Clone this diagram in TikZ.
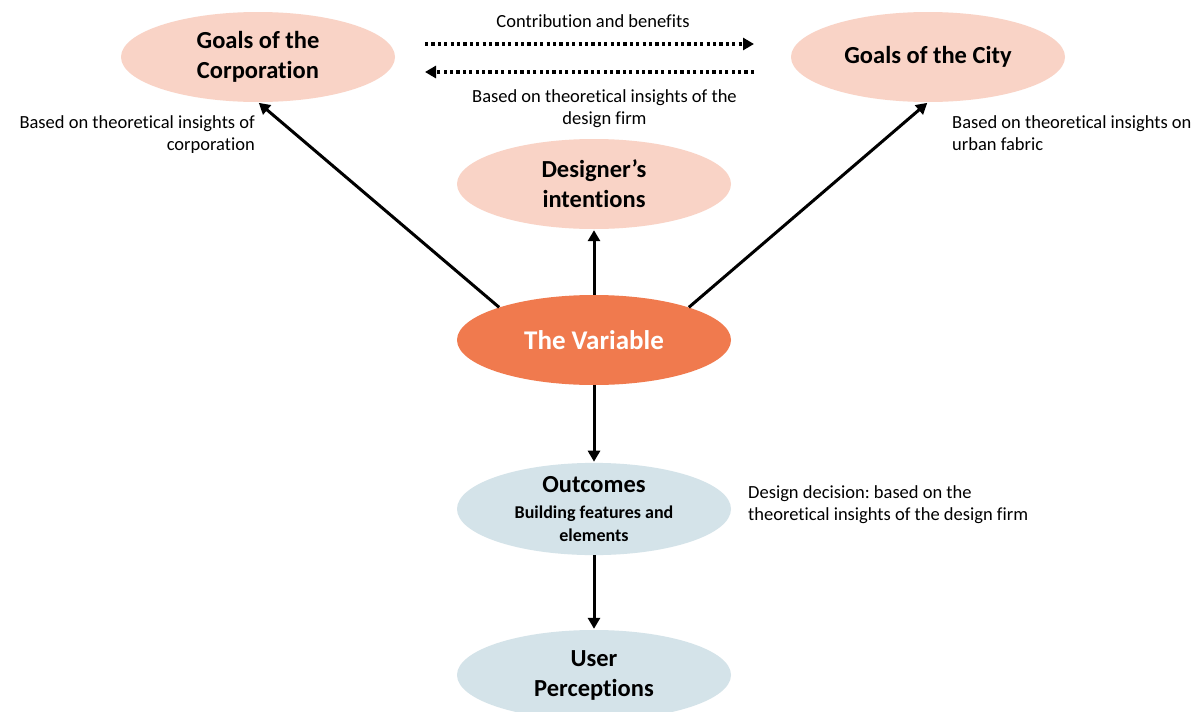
\documentclass[tikz,border=0pt]{standalone}
\usepackage{fontspec}
\setmainfont{Carlito}[Ligatures=NoCommon]
\usetikzlibrary{shapes.geometric,arrows.meta}
\frenchspacing
\definecolor{goalpink}{HTML}{F9D3C6}
\definecolor{varorange}{HTML}{F07A4E}
\definecolor{outblue}{HTML}{D4E3E9}
\tikzset{
  blob/.style={ellipse, minimum width=274pt, minimum height=90pt, inner sep=0pt, align=center,
               font=\bfseries\fontsize{24.5}{30}\selectfont},
  pinkblob/.style={blob, fill=goalpink},
  blueblob/.style={blob, fill=outblue},
  note/.style={font=\fontsize{18.5}{22.5}\selectfont, inner sep=0pt},
  link/.style={line width=3pt, -{Triangle[length=11pt,width=12pt]}, shorten >=1pt},
  dotlink/.style={line width=3.2pt, dash pattern=on 3.2pt off 3.2pt, -{Triangle[length=11pt,width=12pt]}}
}
\begin{document}
\begin{tikzpicture}[x=1pt,y=-1pt]
\clip (0,0) rectangle (1195,712);
\fill[white] (0,0) rectangle (1195,712);

% ellipses
\node[pinkblob] (corp) at (258,57) {Goals of the\\Corporation};
\node[pinkblob] (city) at (928,57) {Goals of the City};
\node[pinkblob] (intent) at (594,184) {Designer’s\\intentions};
\node[blob, fill=varorange, text=white, font=\bfseries\fontsize{27}{30}\selectfont] (var) at (594,340) {The Variable};
\node[blueblob] (out) at (594,509) {Outcomes\\[-4pt]{\fontsize{18}{23}\selectfont Building features and}\\[-7pt]{\fontsize{18}{23}\selectfont elements}};
\node[blueblob] (user) at (594,675) {User\\Perceptions};

% solid connectors
\draw[link] (var.161.7) -- (corp.south);
\draw[link] (var.19.5) -- (city.south);
\draw[link] (var.north) -- (intent.south);
\draw[link] (var.south) -- (out.north);
\draw[link] (out.south) -- (user.north);

% dotted exchange arrows
\coordinate (d1s) at (425,44);
\coordinate (d1e) at (754,44);
\coordinate (d2s) at (754,72);
\coordinate (d2e) at (425,72);
\draw[dotlink] (d1s) -- (d1e);
\draw[dotlink] (d2s) -- (d2e);

% annotations
\node[note] (contrib) at (593,21) {Contribution and benefits};
\node[note, anchor=north west, align=center] (firm) at (472,89) {Based on theoretical insights of the\\design firm};
\node[note, anchor=north east, align=right] (corpnote) at (255,115) {Based on theoretical insights of\\corporation};
\node[note, anchor=north west, align=left] (citynote) at (952,115) {Based on theoretical insights on\\urban fabric};
\node[note, anchor=north west, align=left] (decision) at (748,485) {Design decision: based on the\\theoretical insights of the design firm};
\end{tikzpicture}
\end{document}
